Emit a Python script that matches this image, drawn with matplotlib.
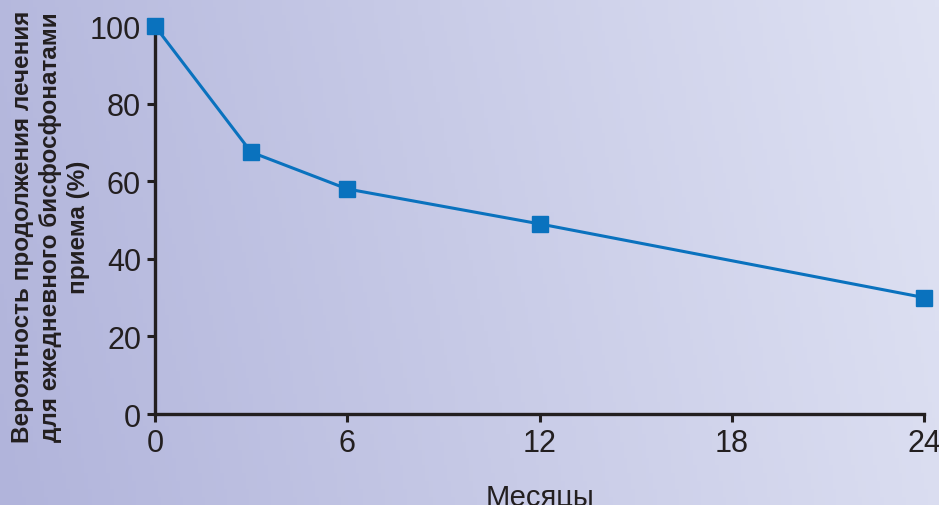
import matplotlib
matplotlib.use('Agg')
import matplotlib.pyplot as plt
import numpy as np

plt.rcParams['font.family'] = ['Liberation Sans', 'DejaVu Sans']

months = [0, 3, 6, 12, 24]
persistence = [100, 67.5, 58, 49, 30]
x_ticks = [0, 6, 12, 18, 24]
y_ticks = [0, 20, 40, 60, 80, 100]

ylabel = ('Вероятность продолжения лечения\n'
          'для ежедневного бисфосфонатами\n'
          'приема (%)')
xlabel = 'Месяцы'

fig = plt.figure(figsize=(9.39, 5.06), dpi=100)

# gradient background, slightly lighter towards the top right
bg = fig.add_axes([0, 0, 1, 1], zorder=-10)
left_c = np.array([177, 180, 219]) / 255
right_c = np.array([223, 226, 243]) / 255
gx = np.linspace(0, 1, 256)[None, :]
gy = np.linspace(1, 0, 64)[:, None]
t = np.clip(0.9 * gx + 0.1 * gy, 0, 1)
grad = left_c * (1 - t[..., None]) + right_c * t[..., None]
bg.imshow(grad, aspect='auto', extent=[0, 1, 0, 1])
bg.axis('off')

ax = fig.add_axes([0.165, 0.1798, 0.8195, 0.7668])
ax.patch.set_alpha(0)
ax.plot(months, persistence, color='#0A72BE', linewidth=2.2,
        marker='s', markersize=12, clip_on=False, zorder=5)

ax.set_xlim(0, 24)
ax.set_ylim(0, 100)
ax.set_xticks(x_ticks)
ax.set_yticks(y_ticks)
for s in ['top', 'right']:
    ax.spines[s].set_visible(False)
for s in ['left', 'bottom']:
    ax.spines[s].set_linewidth(2.4)
    ax.spines[s].set_color('#231F20')
ax.tick_params(axis='both', direction='out', length=6, width=2.2,
               color='#231F20', labelcolor='#231F20', labelsize=22, pad=4)

ax.set_xlabel(xlabel, fontsize=21, color='#231F20', labelpad=18)
fig.text(0.054, 0.551, ylabel, rotation=90, ha='center', va='center',
         fontsize=17.5, fontweight='bold', color='#231F20', linespacing=1.27)

fig.savefig('out.png', dpi=100)
